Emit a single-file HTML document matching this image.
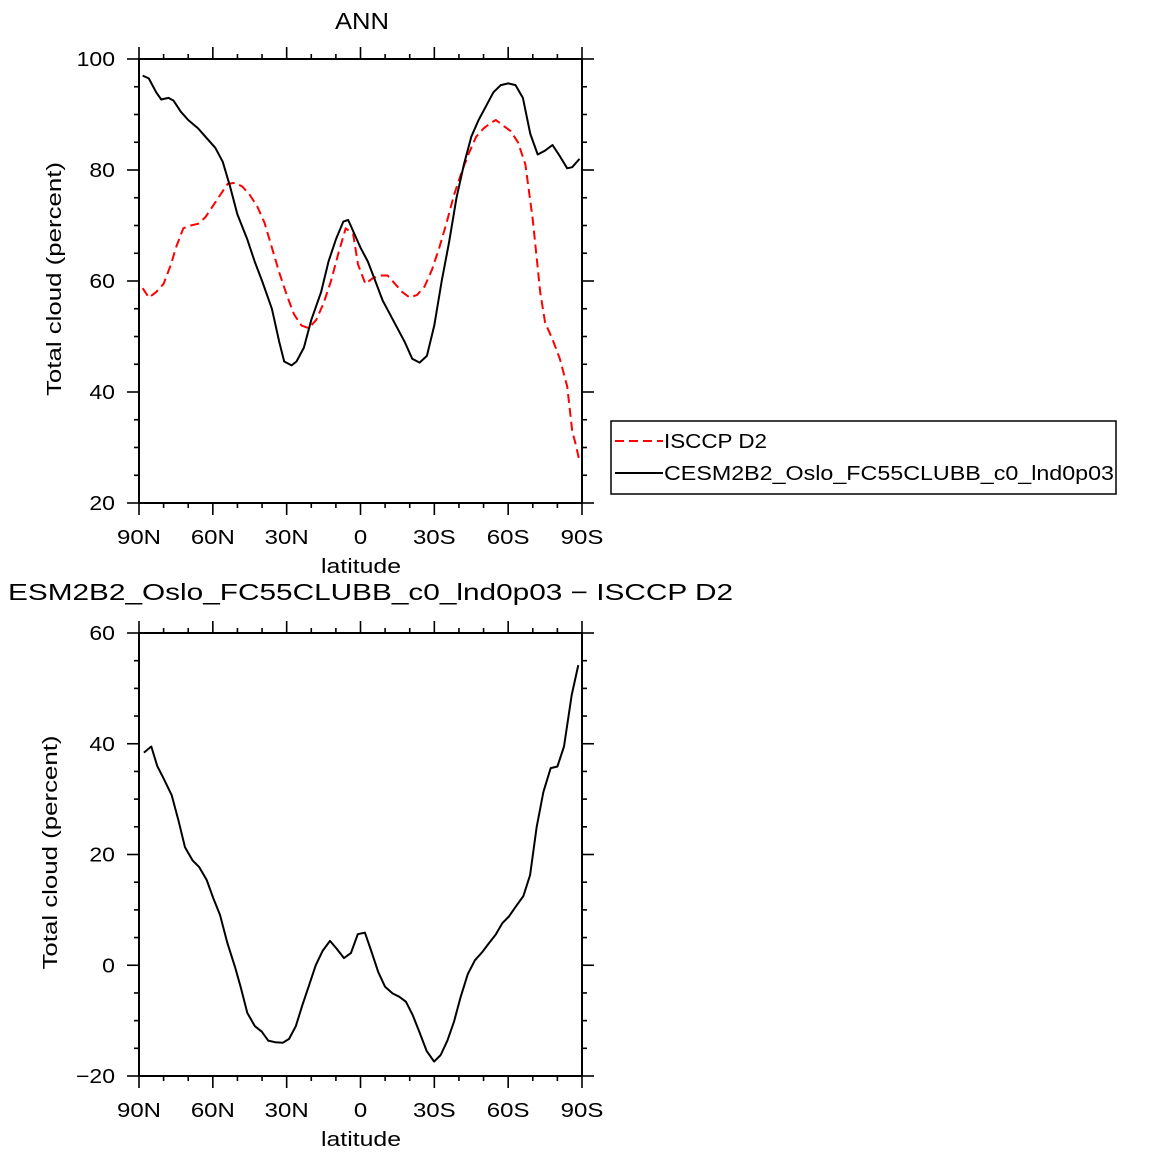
<!DOCTYPE html>
<html><head><meta charset="utf-8"><style>
body{margin:0;background:#fff;}
svg{display:block;font-family:"Liberation Sans",sans-serif;}
</style></head><body>
<svg id="s" width="1160" height="1158"></svg>
<script>
const lats1=[88.5,86,83,81,78,76,73,70,66,63,59,56,53,50,46,43,40,36,33,31,28,26,23,20,16,13,10,7,5,2,0,-3,-6,-9,-12,-15,-18,-21,-24,-27,-30,-33,-36,-39,-42,-45,-48,-51,-54,-57,-60,-63,-66,-69,-72,-75,-78,-81,-84,-86,-89];
const model=[97,96.5,94,92.7,93,92.5,90.5,89,87.5,86,84,81.5,77,72,67.5,63.5,60,55,49,45.5,44.8,45.5,48,53,58,63.5,67.5,70.7,71,68,66,63.5,60,56.5,54,51.5,49,46,45.3,46.5,52,60,67,75,81,86,89,91.5,94,95.3,95.6,95.3,93,86.5,82.8,83.5,84.5,82.5,80.3,80.5,82];
const lats2=[88.5,86,83,80,77,75,72,69,66,63,60,57,54,51,48,45,42,39,36,33,30,27,24,21,18,15,12,9,6,3,1,-2,-5,-8,-11,-14,-17,-20,-23,-26,-29,-32,-35,-38,-41,-44,-47,-50,-53,-55,-58,-61,-64,-67,-70,-73,-75,-78,-81,-84,-86,-87.5,-89];
const obs=[58.7,57,58,59.5,63,66,69.5,70,70.3,71.5,73.5,75.5,77.5,77.7,77,75.5,73.5,70.5,66,61.5,57.5,54,52,51.5,53,56,60,65,69.5,68.5,63,59.5,60.5,61,61,59.5,58,57,57.5,59,62,66,70.5,75.5,79.5,83,86,87.5,88.5,89,88,87,85,81,71,58,52.5,49.5,46,41,33,30.5,27.5];
const lats3=[88,85,82.6,80.1,76.7,74,71.3,68.2,65.5,62.5,59.8,57.1,54.1,51,48.7,46,42.9,40.1,37.5,34.7,31.6,29,26.3,23.6,20.9,18.2,15.4,12.4,9.7,6.7,3.9,1.1,-1.8,-4.5,-7.2,-10,-13.1,-15.8,-18.5,-21.2,-23.9,-26.9,-29.9,-32.6,-35.3,-38,-40.7,-43.6,-46.5,-49.5,-52.2,-54.9,-57.6,-60.3,-63.1,-66.2,-68.9,-71.6,-74.3,-77.3,-80,-82.7,-85.8,-88.5];
const diff=[38.4,39.5,36,33.8,30.7,26.2,21.3,18.9,17.7,15.4,12.1,9.1,4,-0.3,-3.9,-8.6,-11,-12,-13.6,-13.9,-14,-13.3,-11,-7.2,-3.6,0,2.6,4.4,3,1.3,2.2,5.6,5.9,2.4,-1.2,-3.9,-5.1,-5.7,-6.6,-9,-12,-15.5,-17.4,-16.2,-13.6,-10.2,-5.7,-1.6,0.9,2.4,4,5.5,7.6,8.8,10.6,12.5,16.3,25,31.3,35.6,35.9,39.5,48.8,54.2];
const xTicks=[90,60,30,0,-30,-60,-90];
const xLabels=["90N","60N","30N","0","30S","60S","90S"];
const yTicks1=[20,40,60,80,100];
const yTicks2=[-20,0,20,40,60];

const S=document.getElementById('s');const NS="http://www.w3.org/2000/svg";
function el(t,a,txt){const e=document.createElementNS(NS,t);for(const k in a)e.setAttribute(k,a[k]);if(txt!==undefined)e.textContent=txt;S.appendChild(e);return e;}
function widen(t,f){const w=t.getComputedTextLength();t.setAttribute('textLength',(w*f).toFixed(1));t.setAttribute('lengthAdjust','spacingAndGlyphs');}
const X0=139,X1=582;
const xs=lat=>X0+(90-lat)/180*(X1-X0);
function panel(top,bot,ymin,ymax,yt,pfx){
  const ys=v=>bot-(v-ymin)/(ymax-ymin)*(bot-top);
  const r=el('rect',{x:X0,y:top,width:X1-X0,height:bot-top,fill:'none',stroke:'#000','stroke-width':2});
  
  for(let v=ymin;v<=ymax;v+=5){const maj=yt.includes(v);const L=maj?12:5;
    el('line',{x1:X0,x2:X0-L,y1:ys(v),y2:ys(v),stroke:'#000','stroke-width':1.6});
    el('line',{x1:X1,x2:X1+L,y1:ys(v),y2:ys(v),stroke:'#000','stroke-width':1.6});}
  yt.forEach(v=>{const t=el('text',{x:X0-24,y:ys(v)+7,'text-anchor':'end','font-size':20},String(v).replace('-','−'));
    widen(t,1.15);
    });
  for(let l=90;l>=-90;l-=10){const maj=l%30===0;const L=maj?12:5;
    el('line',{x1:xs(l),x2:xs(l),y1:bot,y2:bot+L,stroke:'#000','stroke-width':1.6});
    el('line',{x1:xs(l),x2:xs(l),y1:top,y2:top-L,stroke:'#000','stroke-width':1.6});}
  xTicks.forEach((l,i)=>{const t=el('text',{x:xs(l),y:bot+41,'text-anchor':'middle','font-size':20},xLabels[i]);
    widen(t,1.2);
    });
  const xl=el('text',{x:361,y:bot+70,'text-anchor':'middle','font-size':20,textLength:80,lengthAdjust:'spacingAndGlyphs'},'latitude');
  
  const yl=el('text',{x:0,y:0,'text-anchor':'middle','font-size':20,textLength:234,lengthAdjust:'spacingAndGlyphs',transform:`translate(${pfx==='top'?61:57},${(top+bot)/2-2}) rotate(-90)`},'Total cloud (percent)');
  
  return ys;
}
function line(lats,vals,ys,attrs,name){
  const d=lats.map((l,i)=>(i?'L':'M')+xs(l).toFixed(1)+','+ys(vals[i]).toFixed(1)).join('');
  const p=el('path',Object.assign({d:d,fill:'none','stroke-linejoin':'round'},attrs));
  
}
const ys1=panel(59,503,20,100,yTicks1,'top');
line(lats2,obs,ys1,{stroke:'#f00','stroke-width':2,'stroke-dasharray':'9,5'},'isccp-d2-line');
line(lats1,model,ys1,{stroke:'#000','stroke-width':2},'cesm-model-line');
const ys2=panel(633,1076,-20,60,yTicks2,'bottom');
line(lats3,diff,ys2,{stroke:'#000','stroke-width':2},'difference-line');
let t=el('text',{x:362,y:29,'text-anchor':'middle','font-size':23,textLength:54,lengthAdjust:'spacingAndGlyphs'},'ANN');

t=el('text',{x:8,y:600,'font-size':23,textLength:725,lengthAdjust:'spacingAndGlyphs'},'ESM2B2_Oslo_FC55CLUBB_c0_lnd0p03 − ISCCP D2');

const lg=el('rect',{x:611,y:421,width:505,height:73,fill:'#fff',stroke:'#000','stroke-width':1.5});

el('line',{x1:615,x2:663,y1:441,y2:441,stroke:'#f00','stroke-width':2,'stroke-dasharray':'9,5'});
t=el('text',{x:664,y:448,'font-size':20,textLength:103,lengthAdjust:'spacingAndGlyphs'},'ISCCP D2');

el('line',{x1:615,x2:663,y1:473,y2:473,stroke:'#000','stroke-width':2});
t=el('text',{x:664,y:480,'font-size':20,textLength:450,lengthAdjust:'spacingAndGlyphs'},'CESM2B2_Oslo_FC55CLUBB_c0_lnd0p03');

</script>
</body></html>
